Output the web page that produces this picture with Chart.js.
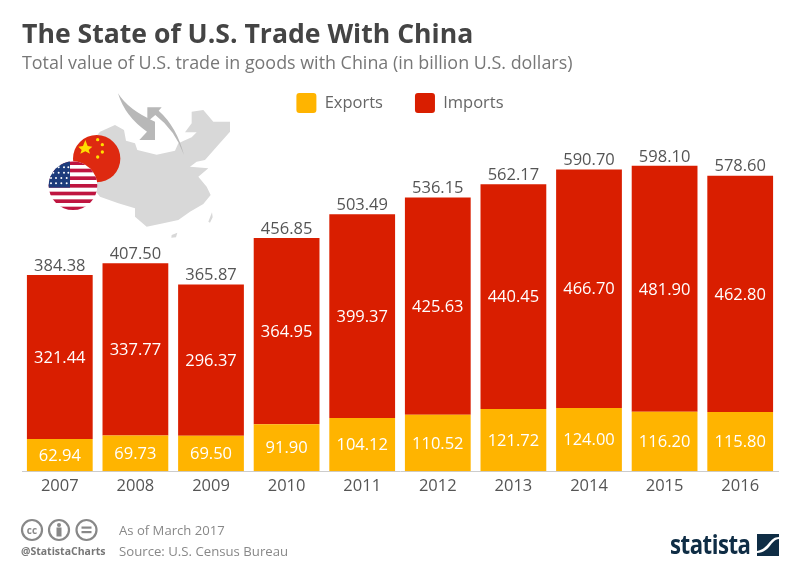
<!DOCTYPE html>
<html>
<head>
<meta charset="utf-8">
<title>The State of U.S. Trade With China</title>
<script src="https://cdn.jsdelivr.net/npm/chart.js@4"></script>
<style>
    html, body { margin: 0; padding: 0; background: #fff; }
    body { width: 800px; height: 570px; position: relative; overflow: hidden; font-family: "Open Sans", sans-serif; }
    #chart-wrap { position: absolute; left: 0; top: 0; width: 800px; height: 570px; }
    .txt { position: absolute; white-space: nowrap; line-height: 1; }
    #title { left: 22px; top: 20px; font-size: 26.6px; font-weight: 700; color: #444; }
    #subtitle { left: 22px; top: 53.5px; font-size: 17.9px; color: #777; }
    #asof { left: 119px; top: 524px; font-size: 13.1px; color: #888; }
    #source { left: 119px; top: 545px; font-size: 13.2px; color: #888; }
    #handle { left: 21px; top: 546px; font-size: 10.5px; font-weight: 700; color: #777; }
    #brand { left: 670px; top: 530px; font-size: 27px; font-weight: 700; color: #0f2d45; letter-spacing: -0.6px; transform: scaleX(0.82); transform-origin: left top; }
    svg { position: absolute; }
</style>
</head>
<body>
<div id="chart-wrap"><canvas id="tradeChart" width="800" height="570"></canvas></div>

<!-- map and flags -->
<svg style="left:0;top:80px" width="270" height="170" viewBox="0 0 810 510">
    <defs>
        <clipPath id="usClip"><circle cx="219" cy="317" r="73"/></clipPath>
    </defs>
    <path fill="#d8d8d8" d="M300 155 L345 135 L372 150 L378 182 L405 190 L412 210 L470 224 L525 212 L535 190 L575 172 L590 157 L555 157 L575 130 L575 95 L610 90 L640 125 L690 125 L690 155 L650 200 L615 240 L590 245 L570 260 L625 265 L595 290 L620 320 L632 345 L610 372 L570 395 L535 420 L490 430 L440 440 L405 410 L405 385 L355 370 L300 350 L220 250 Z"/>
    <path fill="#d8d8d8" d="M515 465 L532 458 L528 472 L514 473 Z M625 425 L636 397 L638 412 L630 428 Z"/>
    <path fill="#b8b8b8" d="M354 40 Q385 90 465 125 L465 180 L418 180 L441 155 Q375 110 354 40 Z"/>
    <path fill="#b8b8b8" d="M552 225 Q525 150 466 105 L442 125 L442 82 L485 82 L476 92 Q530 140 552 225 Z"/>
    <circle cx="290" cy="236" r="71" fill="#de2910"/>
    <path fill="#ffde00" d="M256 180 L263 198 L277 200 L266 210 L270 221 L256 214 L241 221 L245 210 L235 200 L249 198 Z"/>
    <circle cx="293" cy="179" r="5" fill="#ffde00"/>
    <circle cx="307" cy="194" r="5" fill="#ffde00"/>
    <circle cx="307" cy="216" r="5" fill="#ffde00"/>
    <circle cx="293" cy="231" r="5" fill="#ffde00"/>
    <g clip-path="url(#usClip)">
        <rect x="140" y="240" width="160" height="155" fill="#fff"/>
        <g fill="#bf1540">
            <rect x="140" y="244" width="160" height="11"/>
            <rect x="140" y="266" width="160" height="11"/>
            <rect x="140" y="289" width="160" height="11"/>
            <rect x="140" y="312" width="160" height="11"/>
            <rect x="140" y="335" width="160" height="11"/>
            <rect x="140" y="358" width="160" height="11"/>
            <rect x="140" y="380" width="160" height="11"/>
        </g>
        <rect x="140" y="240" width="70" height="83" fill="#1d3c7c"/>
        <g fill="#fff">
            <circle cx="160" cy="262" r="3"/><circle cx="176" cy="262" r="3"/><circle cx="192" cy="262" r="3"/><circle cx="205" cy="262" r="3"/>
            <circle cx="160" cy="278" r="3"/><circle cx="176" cy="278" r="3"/><circle cx="192" cy="278" r="3"/><circle cx="205" cy="278" r="3"/>
            <circle cx="153" cy="294" r="3"/><circle cx="168" cy="294" r="3"/><circle cx="184" cy="294" r="3"/><circle cx="200" cy="294" r="3"/>
            <circle cx="153" cy="310" r="3"/><circle cx="168" cy="310" r="3"/><circle cx="184" cy="310" r="3"/><circle cx="200" cy="310" r="3"/>
        </g>
    </g>
</svg>

<div class="txt" id="title">The State of U.S. Trade With China</div>
<div class="txt" id="subtitle">Total value of U.S. trade in goods with China (in billion U.S. dollars)</div>

<!-- footer icons -->
<svg style="left:20px;top:518px" width="80" height="24" viewBox="0 0 80 24">
    <g fill="none" stroke="#888" stroke-width="2.2">
        <circle cx="12" cy="12" r="10"/>
        <circle cx="39" cy="12" r="10"/>
        <circle cx="66.5" cy="12" r="10"/>
    </g>
    <text x="12" y="15.5" font-size="10" font-weight="700" fill="#888" text-anchor="middle" font-family="Open Sans">cc</text>
    <circle cx="39" cy="7" r="2" fill="#888"/>
    <rect x="36.5" y="9.5" width="5" height="9" fill="#888"/>
    <rect x="61.5" y="8.5" width="10" height="2.2" fill="#888"/>
    <rect x="61.5" y="13" width="10" height="2.2" fill="#888"/>
</svg>
<div class="txt" id="handle">@StatistaCharts</div>
<div class="txt" id="asof">As of March 2017</div>
<div class="txt" id="source">Source: U.S. Census Bureau</div>
<div class="txt" id="brand">statista</div>
<svg style="left:757px;top:534px" width="22" height="22" viewBox="0 0 22 22">
    <rect width="22" height="22" fill="#0f2d45"/>
    <path d="M22 3 C12 3 12 15 0 17 L0 19 C14 18 13 6 22 5 Z" fill="#fff"/>
</svg>

<script>
// 資料
const years = ['2007', '2008', '2009', '2010', '2011', '2012', '2013', '2014', '2015', '2016'];
const exportsValues = [62.94, 69.73, 69.50, 91.90, 104.12, 110.52, 121.72, 124.00, 116.20, 115.80];
const importsValues = [321.44, 337.77, 296.37, 364.95, 399.37, 425.63, 440.45, 466.70, 481.90, 462.80];
const totalValues = [384.38, 407.50, 365.87, 456.85, 503.49, 536.15, 562.17, 590.70, 598.10, 578.60];

const FONT = '"Open Sans", sans-serif';

// 長條內的數字與上方總和
const valueLabels = {
    id: 'valueLabels',
    afterDatasetsDraw(chart) {
        const ctx = chart.ctx;
        ctx.save();
        ctx.font = '16.5px ' + FONT;
        ctx.textAlign = 'center';
        ctx.textBaseline = 'middle';
        ctx.fillStyle = '#fff';
        chart.data.datasets.forEach((ds, d) => {
            chart.getDatasetMeta(d).data.forEach((bar, i) => {
                const mid = (bar.y + bar.base) / 2 + 1;
                ctx.fillText(ds.data[i].toFixed(2), bar.x, mid);
            });
        });
        ctx.fillStyle = '#555';
        chart.getDatasetMeta(1).data.forEach((bar, i) => {
            ctx.fillText(totalValues[i].toFixed(2), bar.x, bar.y - 9);
        });
        ctx.restore();
    }
};

new Chart(document.getElementById('tradeChart'), {
    type: 'bar',
    data: {
        labels: years,
        datasets: [
            { label: 'Exports', data: exportsValues, backgroundColor: '#ffb400' },
            { label: 'Imports', data: importsValues, backgroundColor: '#d91e00' }
        ]
    },
    options: {
        responsive: false,
        animation: false,
        devicePixelRatio: 1,
        layout: { padding: { left: 22, right: 22, top: 61, bottom: 69 } },
        datasets: { bar: { categoryPercentage: 1, barPercentage: 0.87 } },
        scales: {
            x: {
                stacked: true,
                grid: { display: false, drawTicks: false },
                border: { color: '#ccc', width: 1 },
                ticks: { color: '#555', font: { family: FONT, size: 16.5 }, padding: 5, maxRotation: 0 }
            },
            y: { stacked: true, display: false, min: 0, max: 682 }
        },
        plugins: {
            title: { display: false },
            tooltip: { enabled: false },
            legend: {
                position: 'top',
                labels: {
                    color: '#666',
                    font: { family: FONT, size: 16.5 },
                    boxWidth: 20,
                    boxHeight: 20,
                    useBorderRadius: true,
                    borderRadius: 3,
                    padding: 32
                }
            }
        }
    },
    plugins: [valueLabels]
});
</script>
</body>
</html>
